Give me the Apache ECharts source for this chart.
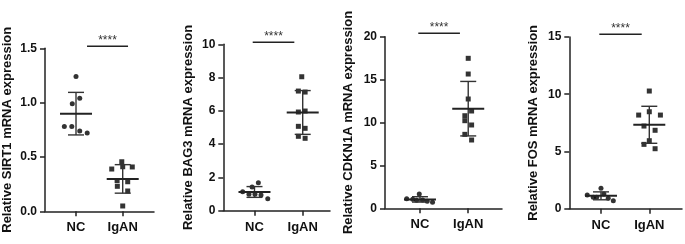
<!DOCTYPE html>
<html>
<head>
<meta charset="utf-8">
<script src="https://cdn.jsdelivr.net/npm/echarts@6/dist/echarts.min.js"></script>
<style>
html,body{margin:0;padding:0;background:#fff;}
#chart{width:685px;height:244px;}
</style>
</head>
<body>
<div id="chart"></div>
<script>
// ---- data ----
const categories = ['NC', 'IgAN'];
const axisNames = ['Relative SIRT1 mRNA expression', 'Relative BAG3 mRNA expression', 'Relative CDKN1A mRNA expression', 'Relative FOS mRNA expression'];
const yMax = [1.5, 10, 20, 15];
const yInterval = [0.5, 2, 5, 5];
const yDecimals = [1, 0, 0, 0];

const sirt1NC = [1.24, 1.04, 0.99, 0.78, 0.78, 0.74, 0.72];
const sirt1NCJitter = [0, 0.08, -0.08, -0.25, -0.09, 0.08, 0.24];
const sirt1IgAN = [0.456, 0.41, 0.389, 0.408, 0.282, 0.272, 0.23, 0.187, 0.049];
const sirt1IgANJitter = [-0.02, 0, -0.235, 0.205, -0.12, 0.107, -0.115, 0.107, 0];

const bag3NC = [1.68, 1.42, 1.14, 0.99, 0.99, 0.94, 0.72];
const bag3NCJitter = [0.08, -0.05, -0.245, -0.115, 0.01, 0.135, 0.275];
const bag3IgAN = [8.05, 7.19, 7.13, 5.93, 5.99, 5.07, 4.95, 4.47, 4.35];
const bag3IgANJitter = [-0.02, -0.09, 0.05, -0.09, 0.05, -0.09, 0.05, -0.09, 0.05];

const cdkn1aNC = [1.67, 1.12, 1.05, 0.93, 0.97, 0.82, 0.70];
const cdkn1aNCJitter = [-0.015, -0.275, -0.15, -0.07, 0.055, 0.15, 0.26];
const cdkn1aIgAN = [17.48, 15.65, 12.74, 11.34, 10.79, 10.21, 9.71, 8.62, 7.96];
const cdkn1aIgANJitter = [0, 0, 0, 0.07, -0.07, -0.07, 0.07, -0.07, 0.07];

const fosNC = [1.78, 1.20, 1.00, 1.00, 1.28, 0.91, 0.70];
const fosNCJitter = [0, -0.285, -0.16, -0.09, 0.06, 0.15, 0.255];
const fosIgAN = [10.28, 8.18, 8.47, 8.18, 7.22, 6.85, 5.94, 5.62, 5.24];
const fosIgANJitter = [0, -0.22, 0, 0.23, -0.11, 0.12, 0, -0.11, 0.12];

// significance bars: [xStart, xEnd, yLevel] in category/value units
const sigBars = [[1.236, 2.114, 1.518], [0.963, 1.826, 10.12], [0.965, 1.828, 20.4], [0.965, 1.843, 15.23]];
const sigLabel = '****';

const panels = [
  {nc: sirt1NC, ncJ: sirt1NCJitter, ig: sirt1IgAN, igJ: sirt1IgANJitter},
  {nc: bag3NC, ncJ: bag3NCJitter, ig: bag3IgAN, igJ: bag3IgANJitter},
  {nc: cdkn1aNC, ncJ: cdkn1aNCJitter, ig: cdkn1aIgAN, igJ: cdkn1aIgANJitter},
  {nc: fosNC, ncJ: fosNCJitter, ig: fosIgAN, igJ: fosIgANJitter}
];

// ---- layout ----
const grids = [
  {left: 45, top: 48.3, width: 109, height: 163},
  {left: 223.3, top: 44.3, width: 106.7, height: 166.4},
  {left: 385, top: 36.7, width: 117, height: 171.6},
  {left: 569.3, top: 37, width: 112.7, height: 171.7}
];
const xRanges = [[0.336, 2.67], [0.353, 2.566], [0.275, 2.70], [0.344, 2.677]];
const nameGaps = [31, 28, 30.5, 29.5];
const FONT = '"Liberation Sans", Arial, Helvetica, sans-serif';

function meanSd(a) {
  const m = a.reduce((s, v) => s + v, 0) / a.length;
  const v = a.reduce((s, x) => s + (x - m) * (x - m), 0) / (a.length - 1);
  return [m, Math.sqrt(v)];
}

const xAxis = [], yAxis = [], series = [];
panels.forEach((p, i) => {
  xAxis.push({
    type: 'value', gridIndex: i, min: xRanges[i][0], max: xRanges[i][1],
    axisLine: {show: true, onZero: false, lineStyle: {color: '#222', width: 1.5}},
    axisTick: {show: true, customValues: [1, 2], length: 5, lineStyle: {color: '#222', width: 1.5}},
    axisLabel: {customValues: [1, 2], formatter: v => categories[Math.round(v) - 1] || '', margin: 10,
      fontFamily: FONT, fontWeight: 'bold', fontSize: 13, color: '#111'},
    splitLine: {show: false}
  });
  yAxis.push({
    type: 'value', gridIndex: i, min: 0, max: yMax[i], interval: yInterval[i],
    name: axisNames[i], nameLocation: 'middle', nameGap: nameGaps[i],
    nameTextStyle: {fontFamily: FONT, fontWeight: 'bold', fontSize: 13, color: '#111'},
    axisLine: {show: true, lineStyle: {color: '#222', width: 1.5}},
    axisTick: {show: true, length: 5, lineStyle: {color: '#222', width: 1.5}},
    axisLabel: {formatter: v => v.toFixed(yDecimals[i]), margin: 8,
      fontFamily: FONT, fontWeight: 'bold', fontSize: 12, color: '#111'},
    splitLine: {show: false}
  });
  series.push({
    type: 'scatter', xAxisIndex: i, yAxisIndex: i, symbol: 'circle', symbolSize: 5,
    itemStyle: {color: '#000'}, silent: true,
    data: p.nc.map((v, k) => [1 + p.ncJ[k], v])
  });
  series.push({
    type: 'scatter', xAxisIndex: i, yAxisIndex: i, symbol: 'rect', symbolSize: 5,
    itemStyle: {color: '#000'}, silent: true,
    data: p.ig.map((v, k) => [2 + p.igJ[k], v])
  });
  const s1 = meanSd(p.nc), s2 = meanSd(p.ig);
  series.push({
    type: 'custom', xAxisIndex: i, yAxisIndex: i, clip: false, silent: true, z: 5,
    encode: {x: 0, y: [1, 2]},
    data: [[1, s1[0], s1[1]], [2, s2[0], s2[1]]],
    renderItem: (params, api) => {
      const x = api.value(0), m = api.value(1), sd = api.value(2);
      const c = api.coord([x, m]), t = api.coord([x, m + sd]), b = api.coord([x, m - sd]);
      const st = {stroke: '#333', lineWidth: 1.4};
      return {type: 'group', children: [
        {type: 'line', shape: {x1: c[0], y1: t[1], x2: c[0], y2: b[1]}, style: st},
        {type: 'line', shape: {x1: c[0] - 8, y1: t[1], x2: c[0] + 8, y2: t[1]}, style: st},
        {type: 'line', shape: {x1: c[0] - 8, y1: b[1], x2: c[0] + 8, y2: b[1]}, style: st},
        {type: 'line', shape: {x1: c[0] - 16, y1: c[1], x2: c[0] + 16, y2: c[1]}, style: {stroke: '#222', lineWidth: 2}}
      ]};
    }
  });
  series.push({
    type: 'custom', xAxisIndex: i, yAxisIndex: i, clip: false, silent: true, z: 5,
    encode: {x: [0, 1], y: 2},
    data: [sigBars[i]],
    renderItem: (params, api) => {
      const a = api.coord([api.value(0), api.value(2)]);
      const b = api.coord([api.value(1), api.value(2)]);
      return {type: 'group', children: [
        {type: 'line', shape: {x1: a[0], y1: a[1], x2: b[0], y2: b[1]}, style: {stroke: '#222', lineWidth: 1.5}},
        {type: 'text', style: {text: sigLabel, x: (a[0] + b[0]) / 2, y: a[1] - 5.5, align: 'center', verticalAlign: 'middle',
          fontSize: 12, fontFamily: FONT, fill: '#333'}}
      ]};
    }
  });
});

const chart = echarts.init(document.getElementById('chart'), null, {renderer: 'canvas'});
chart.setOption({
  animation: false,
  backgroundColor: '#fff',
  grid: grids.map(g => Object.assign({containLabel: false}, g)),
  xAxis, yAxis, series
});
</script>
</body>
</html>
